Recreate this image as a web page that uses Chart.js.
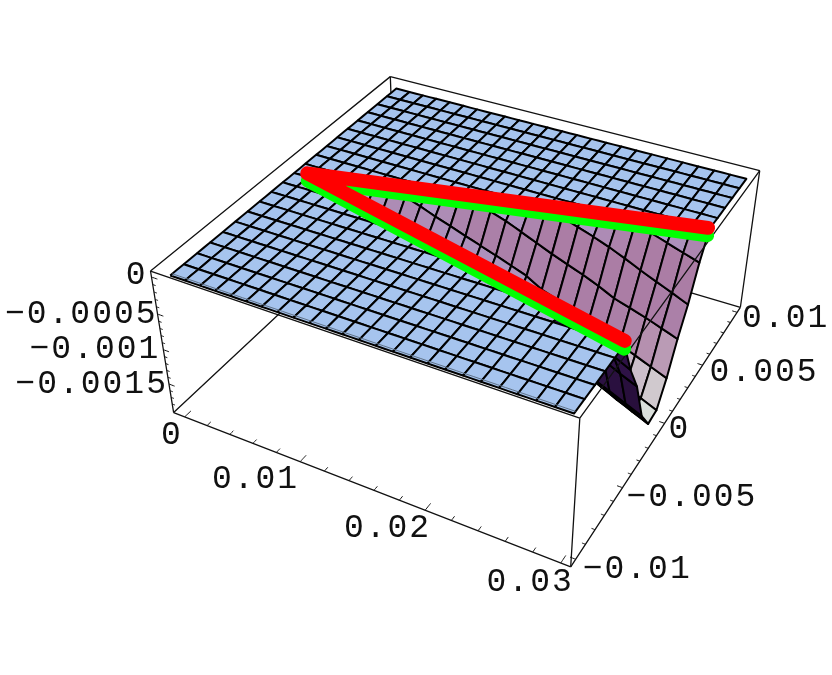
<!DOCTYPE html>
<html>
<head>
<meta charset="utf-8">
<script src="https://cdn.jsdelivr.net/npm/chart.js@4"></script>
<style>
  html, body { margin: 0; padding: 0; background: #fff; }
  canvas { display: block; }
</style>
</head>
<body>
<canvas id="chart" width="832" height="675"></canvas>
<script>
// surface samples
const xGrid = [0, 0.00125, 0.0025, 0.00375, 0.005, 0.00625, 0.0075, 0.00875, 0.01, 0.01125, 0.0125, 0.01375, 0.015, 0.01625, 0.0175, 0.01875, 0.02, 0.02125, 0.0225, 0.02375, 0.025, 0.02625, 0.0275, 0.02875, 0.03];
const yGrid = [-0.01, -0.009, -0.008, -0.007, -0.006, -0.005, -0.004, -0.003, -0.002, -0.001, 0, 0.001, 0.002, 0.003, 0.004, 0.005, 0.006, 0.007, 0.008, 0.009, 0.01];

// wedge depth in units of 0.001, rows start at xGrid[2], columns are yGrid[5] to yGrid[15]
const wedgeDepth = [
    [0, 0, 0, 0, 0, 0.015, 0, 0, 0, 0, 0],
    [0, 0, 0, 0, 0, 0.064, 0, 0, 0, 0, 0],
    [0, 0, 0, 0, 0, 0.119, 0, 0, 0, 0, 0],
    [0, 0, 0, 0, 0, 0.178, 0, 0, 0, 0, 0],
    [0, 0, 0, 0, 0, 0.239, 0, 0, 0, 0, 0],
    [0, 0, 0, 0, 0.087, 0.303, 0.054, 0, 0, 0, 0],
    [0, 0, 0, 0, 0.166, 0.368, 0.128, 0, 0, 0, 0],
    [0, 0, 0, 0, 0.25, 0.435, 0.208, 0, 0, 0, 0],
    [0, 0, 0, 0, 0.344, 0.503, 0.28, 0, 0, 0, 0],
    [0, 0, 0, 0.044, 0.44, 0.573, 0.355, 0.03, 0, 0, 0],
    [0, 0, 0, 0.145, 0.548, 0.643, 0.427, 0.093, 0, 0, 0],
    [0, 0, 0, 0.244, 0.632, 0.715, 0.50, 0.163, 0, 0, 0],
    [0, 0, 0, 0.335, 0.716, 0.787, 0.579, 0.25, 0, 0, 0],
    [0, 0, 0, 0.416, 0.805, 0.86, 0.655, 0.338, 0, 0, 0],
    [0, 0, 0.10, 0.57, 0.97, 1.05, 0.78, 0.428, 0.066, 0, 0],
    [0, 0, 0.209, 0.67, 1.07, 1.13, 0.86, 0.509, 0.137, 0, 0],
    [0, 0, 0.322, 0.79, 1.18, 1.22, 0.95, 0.589, 0.207, 0, 0],
    [0, 0, 0.43, 0.91, 1.28, 1.31, 1.03, 0.68, 0.285, 0, 0],
    [0, 0.056, 0.51, 1.06, 1.38, 1.40, 1.12, 0.784, 0.376, 0.04, 0],
    [0, 0.17, 0.61, 1.20, 1.49, 1.49, 1.21, 0.85, 0.476, 0.11, 0],
    [0, 0.28, 0.69, 1.30, 1.60, 1.58, 1.30, 0.92, 0.567, 0.18, 0],
    [0, 0.39, 0.80, 1.40, 1.70, 1.68, 1.39, 1.0, 0.656, 0.25, 0],
    [0, 0.50, 0.90, 1.50, 1.80, 1.78, 1.48, 1.08, 0.75, 0.32, 0]
];

// thick lines along the wedge rim
const rimX = [0.03, 0.0012, 0.03];
const rimY = [0.0047, 0, -0.005];
const redZ = 0.00005;
const greenZ = -0.00005;

// axes
const boxX = [-0.001, 0.0307];
const boxY = [-0.0105, 0.0105];
const boxZ = [-0.00193, 0.00008];
const xMajor = [0, 0.01, 0.02, 0.03];
const xMinor = [0.002, 0.004, 0.006, 0.008, 0.012, 0.014, 0.016, 0.018, 0.022, 0.024, 0.026, 0.028];
const yMajor = [-0.01, -0.005, 0, 0.005, 0.01];
const yMinor = [-0.009, -0.008, -0.007, -0.006, -0.004, -0.003, -0.002, -0.001, 0.001, 0.002, 0.003, 0.004, 0.006, 0.007, 0.008, 0.009];
const zMajor = [0, -0.0005, -0.001, -0.0015];
const zMinor = [-0.0001, -0.0002, -0.0003, -0.0004, -0.0006, -0.0007, -0.0008, -0.0009, -0.0011, -0.0012, -0.0013, -0.0014, -0.0016, -0.0017, -0.0018];
const xLabels = ["0", "0.01", "0.02", "0.03"];
const yLabels = ["\u22120.01", "\u22120.005", "0", "0.005", "0.01"];
const zLabels = ["0", "\u22120.0005", "\u22120.001", "\u22120.0015"];

// label nudges from the tick, dx then dy
const xLabelNudge = [[-2, 18], [-1, 18], [6, 18], [13, 19]];
const yLabelNudge = [[7, 10], [4, 10], [4, 6], [7, 7], [5, 6]];
const zLabelNudge = [[-4, -2], [0, 0], [-3, 0], [-1, 0]];

// where known 3D points landed in the picture, used to fit the camera
const cameraPins = [
    [boxX[0], boxY[0], boxZ[1], 152, 269],
    [boxX[0], boxY[0], boxZ[0], 173, 411],
    [boxX[1], boxY[0], boxZ[0], 571, 566],
    [boxX[1], boxY[0], boxZ[1], 578, 418],
    [boxX[1], boxY[1], boxZ[0], 742, 305],
    [boxX[1], boxY[1], boxZ[1], 759, 168],
    [boxX[0], boxY[1], boxZ[1], 393, 73],
    [boxX[0], boxY[1], boxZ[0], 394, 209],
    [0, -0.01, 0, 169, 277],
    [0.03, -0.01, 0, 576, 417],
    [0.03, 0.01, 0, 745, 182],
    [0, 0.01, 0, 395, 90]
];

function solve(A, b) {
    const n = b.length;
    const M = A.map((row, i) => [...row, b[i]]);
    for (let i = 0; i < n; i++) {
        let s = i;
        for (let r = i + 1; r < n; r++) if (Math.abs(M[r][i]) > Math.abs(M[s][i])) s = r;
        [M[i], M[s]] = [M[s], M[i]];
        for (let r = 0; r < n; r++) {
            if (r === i) continue;
            const f = M[r][i] / M[i][i];
            for (let c = i; c <= n; c++) M[r][c] -= f * M[i][c];
        }
    }
    return M.map((row, i) => row[n] / row[i]);
}

function fitCamera() {
    const rows = [], rhs = [];
    for (const [x, y, z, px, py] of cameraPins) {
        const X = x / 0.03, Y = y / 0.01, Z = z / 0.002, u = px / 800, v = py / 800;
        rows.push([X, Y, Z, 1, 0, 0, 0, 0, -u * X, -u * Y, -u * Z]); rhs.push(u);
        rows.push([0, 0, 0, 0, X, Y, Z, 1, -v * X, -v * Y, -v * Z]); rhs.push(v);
    }
    const n = 11;
    const AtA = Array.from({ length: n }, () => Array(n).fill(0));
    const Atb = Array(n).fill(0);
    rows.forEach((r, k) => {
        for (let i = 0; i < n; i++) {
            Atb[i] += r[i] * rhs[k];
            for (let j = 0; j < n; j++) AtA[i][j] += r[i] * r[j];
        }
    });
    return solve(AtA, Atb);
}

const cam = fitCamera();

function camDepth(x, y, z) {
    return cam[8] * x / 0.03 + cam[9] * y / 0.01 + cam[10] * z / 0.002 + 1;
}

function project(x, y, z) {
    const X = x / 0.03, Y = y / 0.01, Z = z / 0.002;
    const w = camDepth(x, y, z);
    return {
        x: 800 * (cam[0] * X + cam[1] * Y + cam[2] * Z + cam[3]) / w,
        y: 800 * (cam[4] * X + cam[5] * Y + cam[6] * Z + cam[7]) / w
    };
}

function surfaceZ(i, j) {
    if (i < 2 || j < 5 || j > 15) return 0;
    return -wedgeDepth[i - 2][j - 5] * 0.001;
}

function mix(a, b, t) {
    return a.map((v, k) => v + (b[k] - v) * t);
}

function clamp01(t) { return Math.max(0, Math.min(1, t)); }

const wallStops = [[178, 180, 222], [175, 165, 210], [173, 140, 182], [171, 125, 165]];

function cellColor(i, j) {
    const a = surfaceZ(i, j), b = surfaceZ(i + 1, j), c = surfaceZ(i + 1, j + 1), d = surfaceZ(i, j + 1);
    if (a === 0 && b === 0 && c === 0 && d === 0) return "rgb(166,196,238)";
    const slope = ((c + d) - (a + b)) * 500;
    const depth = -(a + b + c + d) * 250;
    let rgb;
    if (slope < -0.1) {
        rgb = mix([46, 18, 70], [30, 10, 40], clamp01(depth - 0.8));
    } else if (slope < 0) {
        rgb = depth > 1 ? [220, 230, 220] : [176, 176, 220];
    } else {
        const p = clamp01(slope / 0.36) * 3;
        const k = Math.min(2, Math.floor(p));
        rgb = mix(wallStops[k], wallStops[k + 1], p - k);
        rgb = mix(rgb, [224, 230, 220], clamp01((depth - 1) / 0.75) * 0.9);
    }
    return `rgb(${rgb.map(Math.round).join(",")})`;
}

function lineSet(points, color, width, extra) {
    return Object.assign({
        data: points, showLine: true, pointRadius: 0, borderColor: color, borderWidth: width,
        tension: 0.0001, fill: false
    }, extra);
}

function boxEdge(a, b) {
    return lineSet([project(...a), project(...b)], "#111", 1.3);
}

function buildDatasets() {
    const [x0, x1] = boxX, [y0, y1] = boxY, [zb, zt] = boxZ;
    const out = [];

    // back of the box, behind the surface
    out.push(boxEdge([x0, y0, zb], [x0, y1, zb]));
    out.push(boxEdge([x0, y1, zb], [x1, y1, zb]));
    out.push(boxEdge([x0, y1, zb], [x0, y1, zt]));
    out.push(boxEdge([x0, y0, zb], [x0, y0, zt]));
    out.push(boxEdge([x1, y1, zb], [x1, y1, zt]));
    out.push(boxEdge([x0, y1, zt], [x1, y1, zt]));
    out.push(boxEdge([x0, y1, zt], [x0, y0, zt]));

    // ticks
    const xTick = (v, len) => lineSet([project(v, y0, zb), project(v, y0 + len, zb)], "#111", 1);
    const yTick = (v, len) => lineSet([project(x1, v, zb), project(x1 - len, v, zb)], "#111", 1);
    const zTick = (v, len) => lineSet([project(x0, y0, v), project(x0 + len, y0, v)], "#111", 1);
    xMajor.forEach(v => out.push(xTick(v, 0.0005)));
    xMinor.forEach(v => out.push(xTick(v, 0.0003)));
    yMajor.forEach(v => out.push(yTick(v, 0.0004)));
    yMinor.forEach(v => out.push(yTick(v, 0.00025)));
    zMajor.forEach(v => out.push(zTick(v, 0.0005)));
    zMinor.forEach(v => out.push(zTick(v, 0.00025)));

    // surface cells, far ones first
    const cells = [];
    for (let i = 0; i < xGrid.length - 1; i++) {
        for (let j = 0; j < yGrid.length - 1; j++) {
            const corners = [[i, j], [i + 1, j], [i + 1, j + 1], [i, j + 1], [i, j]];
            const pts3 = corners.map(([a, b]) => [xGrid[a], yGrid[b], surfaceZ(a, b)]);
            const far = pts3.slice(0, 4).reduce((s, p) => s + camDepth(...p), 0) / 4;
            cells.push({ far, ds: lineSet(pts3.map(p => project(...p)), "#000", 2, { fill: "shape", backgroundColor: cellColor(i, j), borderJoinStyle: "round" }) });
        }
    }
    cells.sort((a, b) => b.far - a.far);
    cells.forEach(c => out.push(c.ds));

    // front edge has a thin second line just inside it
    out.push(lineSet([project(0, -0.00985, 0), project(0.03, -0.00985, 0)], "#5f7186", 1));

    // box edges in front
    out.push(boxEdge([x0, y0, zb], [x1, y0, zb]));
    out.push(boxEdge([x1, y0, zb], [x1, y1, zb]));
    out.push(boxEdge([x1, y0, zb], [x1, y0, zt]));
    out.push(boxEdge([x0, y0, zt], [x1, y0, zt]));
    out.push(boxEdge([x1, y0, zt], [x1, y1, zt]));

    // rim
    const thick = { borderCapStyle: "round", borderJoinStyle: "round" };
    out.push(lineSet(rimX.map((x, k) => project(x, rimY[k], greenZ)), "#00ff00", 14, thick));
    out.push(lineSet(rimX.map((x, k) => project(x, rimY[k], redZ)), "#ff0000", 14, thick));

    // lower order is painted later
    out.forEach((d, k) => { d.order = out.length - k; });
    return out;
}

const tickText = {
    id: "tickText",
    afterDatasetsDraw(chart) {
        const { ctx, scales } = chart;
        const put = (value3d, text, nudge, align) => {
            const p = project(...value3d);
            ctx.textAlign = align;
            ctx.fillText(text, scales.x.getPixelForValue(p.x) + nudge[0], scales.y.getPixelForValue(p.y) + nudge[1]);
        };
        ctx.save();
        ctx.font = '33px "Liberation Mono", monospace';
        ctx.letterSpacing = "2px";
        ctx.fillStyle = "#111";
        ctx.textBaseline = "middle";
        xMajor.forEach((v, k) => put([v, boxY[0], boxZ[0]], xLabels[k], xLabelNudge[k], "right"));
        yMajor.forEach((v, k) => put([boxX[1], v, boxZ[0]], yLabels[k], yLabelNudge[k], "left"));
        zMajor.forEach((v, k) => put([boxX[0], boxY[0], v], zLabels[k], zLabelNudge[k], "right"));
        ctx.restore();
    }
};

new Chart(document.getElementById("chart"), {
    type: "scatter",
    data: { datasets: buildDatasets() },
    options: {
        responsive: false,
        animation: false,
        layout: { padding: 0 },
        plugins: { legend: { display: false }, tooltip: { enabled: false } },
        events: [],
        scales: {
            x: { type: "linear", min: 0, max: 832, display: false },
            y: { type: "linear", min: 0, max: 675, reverse: true, display: false }
        }
    },
    plugins: [tickText]
});
</script>
</body>
</html>
